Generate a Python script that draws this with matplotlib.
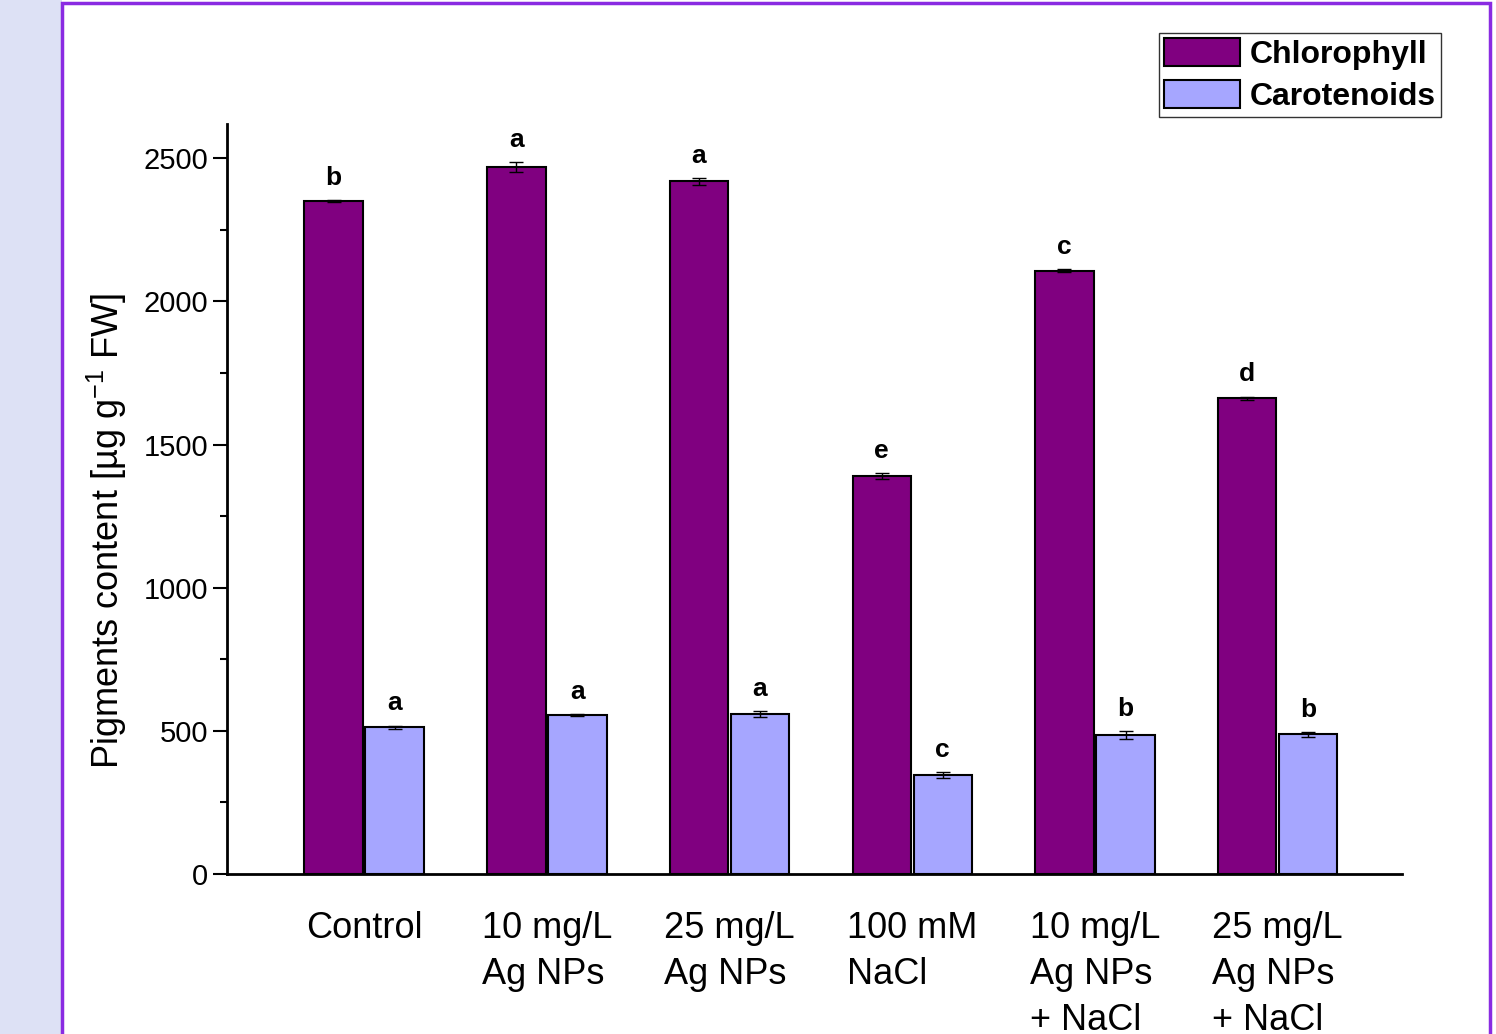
import numpy as np
import matplotlib
matplotlib.use('Agg')
import matplotlib.pyplot as plt
from matplotlib.patches import Rectangle
from matplotlib.ticker import MultipleLocator

plt.rcParams['font.family'] = ['Liberation Sans', 'DejaVu Sans']
plt.rcParams['mathtext.default'] = 'regular'

# data
groups = ['Control', '10 mg/L\nAg NPs', '25 mg/L\nAg NPs', '100 mM\nNaCl',
          '10 mg/L\nAg NPs\n+ NaCl', '25 mg/L\nAg NPs\n+ NaCl']
chl = [2350, 2470, 2420, 1390, 2108, 1662]
chl_err = [4, 18, 12, 10, 6, 6]
car = [513, 555, 558, 346, 485, 488]
car_err = [5, 4, 10, 10, 14, 8]
chl_letters = ['b', 'a', 'a', 'e', 'c', 'd']
car_letters = ['a', 'a', 'a', 'c', 'b', 'b']

chl_color = '#800080'
car_color = '#a6a6ff'

fig = plt.figure(figsize=(14.96, 10.34), dpi=100)
fig.patch.set_facecolor('white')

# page background strip and panel frame
fig.patches.append(Rectangle((0, 0), 62 / 1496, 1, transform=fig.transFigure,
                             facecolor='#dde1f5', edgecolor='none', zorder=0))
fig.patches.append(Rectangle((62 / 1496, -0.05), (1490 - 62) / 1496, 1.05 - 3 / 1034,
                             transform=fig.transFigure, facecolor='none',
                             edgecolor='#8a2be2', linewidth=2.5, zorder=1))

ax = fig.add_axes([227 / 1496, 1 - 874 / 1034, (1402 - 227) / 1496, (874 - 124) / 1034])
ax.patch.set_alpha(0)

x = np.arange(len(groups))
w = 0.32
off = 0.167

b1 = ax.bar(x - off, chl, w, color=chl_color, edgecolor='black', linewidth=1.5,
            label='Chlorophyll', zorder=2)
b2 = ax.bar(x + off, car, w, color=car_color, edgecolor='black', linewidth=1.5,
            label='Carotenoids', zorder=2)
ax.errorbar(x - off, chl, yerr=chl_err, fmt='none', ecolor='black', elinewidth=1,
            capsize=5, capthick=1, zorder=3)
ax.errorbar(x + off, car, yerr=car_err, fmt='none', ecolor='black', elinewidth=1,
            capsize=5, capthick=1, zorder=3)

for xi, v, e, t in zip(x - off, chl, chl_err, chl_letters):
    ax.annotate(t, (xi, v + e), xytext=(0, 11), textcoords='offset points',
                ha='center', va='baseline', fontsize=19, fontweight='bold')
for xi, v, e, t in zip(x + off, car, car_err, car_letters):
    ax.annotate(t, (xi, v + e), xytext=(0, 11), textcoords='offset points',
                ha='center', va='baseline', fontsize=19, fontweight='bold')

ax.set_xlim(-0.75, 5.68)
ax.set_ylim(0, 2620)
ax.yaxis.set_major_locator(MultipleLocator(500))
ax.yaxis.set_minor_locator(MultipleLocator(250))

ax.set_xticks(x)
ax.set_xticklabels(groups, fontsize=26, multialignment='left', linespacing=1.4)
ax.tick_params(axis='x', length=0, pad=27)
ax.tick_params(axis='y', which='major', length=10, width=1.5, labelsize=21, direction='out')
ax.tick_params(axis='y', which='minor', length=5, width=1.5, direction='out')

for s in ['top', 'right']:
    ax.spines[s].set_visible(False)
for s in ['left', 'bottom']:
    ax.spines[s].set_linewidth(2)

ax.set_ylabel('Pigments content [µg g$^{-1}$ FW]', fontsize=26, va='center')
ax.yaxis.set_label_coords(-0.102, 0.457)

leg = fig.legend(handles=[b1, b2], loc='upper left',
                 bbox_to_anchor=(1159 / 1496, 1 - 33 / 1034),
                 prop={'size': 23, 'weight': 'bold'}, frameon=True, fancybox=False,
                 edgecolor='black', handlelength=2.4, handleheight=1.0,
                 handletextpad=0.3, labelspacing=0.3, borderpad=0.15,
                 borderaxespad=0)
leg.get_frame().set_linewidth(1)

fig.savefig('out.png', dpi=100)
